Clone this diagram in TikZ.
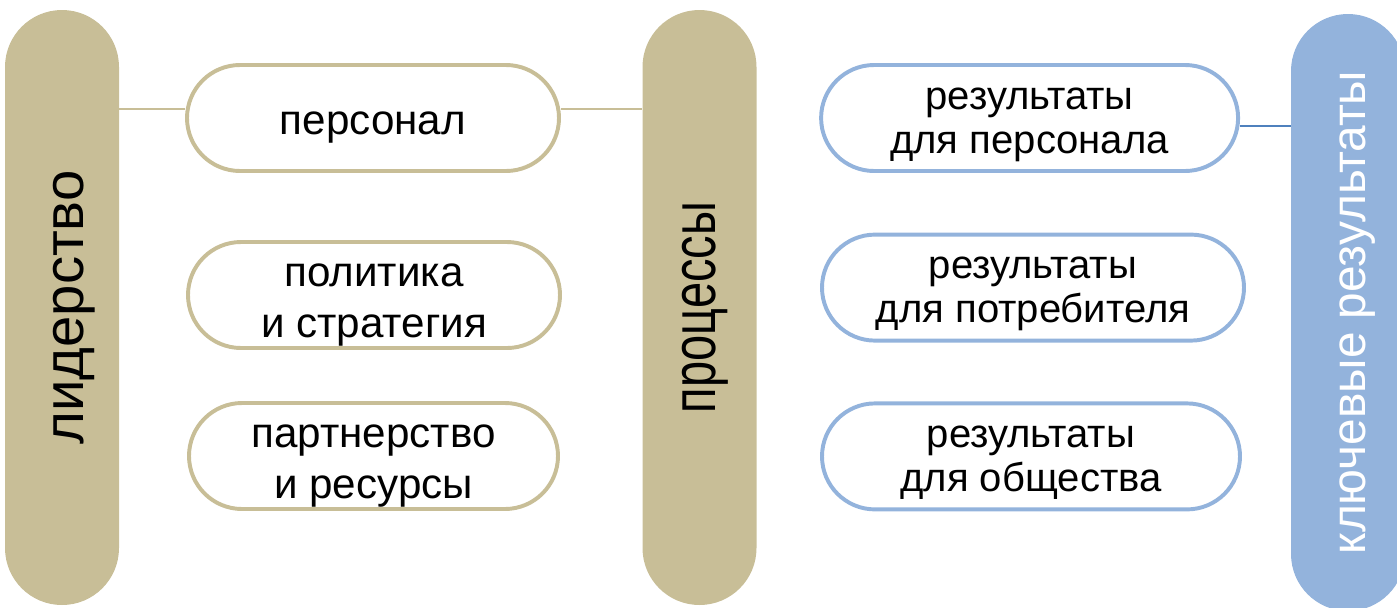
\documentclass[tikz,border=0pt]{standalone}
\usepackage{fontspec}
\setmainfont{Liberation Sans}
\usepackage{xcolor}
\usetikzlibrary{shapes.misc}

\definecolor{tanfill}{HTML}{C8BE97}
\definecolor{bluefill}{HTML}{93B3DC}
\definecolor{blueline}{HTML}{4F81BD}

\tikzset{
  pillar/.style={rounded rectangle, rotate=90, fill=tanfill, inner sep=0pt,
    minimum width=14.875cm, minimum height=2.85cm, text depth=0pt},
  pill/.style={rounded rectangle, line width=2.8pt, fill=white,
    minimum height=2.65cm, inner sep=0pt, align=center},
  % a taller text box pushes the two lines a bit below the middle
  tanbox/.style={pill, draw=tanfill, minimum width=9.3cm,
    font=\fontsize{30}{36.3}\selectfont, text height=2.33cm},
  bluebox/.style={pill, draw=bluefill, minimum width=10.45cm,
    font=\fontsize{28.5}{31.3}\selectfont, text height=1.96cm},
  link/.style={line width=1.4pt, tanfill}
}

\begin{document}
\begin{tikzpicture}
  \useasboundingbox (0,0) rectangle (34.925,-15.175);

  % Enablers column
  \node[pillar, text height=1.05cm, font=\fontsize{40}{44}\selectfont] (lead) at (1.55,-7.6875) {лидерство};
  \node[tanbox, text height=1.05cm] (pers) at (9.325,-2.95) {персонал};
  \node[tanbox] (pol) at (9.35,-7.375) {политика\\и стратегия};
  \node[tanbox, minimum width=9.225cm] (part) at (9.3375,-11.4) {партнерство\\и ресурсы};
  \node[pillar, text height=0.775cm, font=\fontsize{44}{48}\selectfont] (proc) at (17.4875,-7.6875) {\scalebox{0.76}[1]{процессы}};

  % Results column
  \node[bluebox, minimum width=10.425cm] (rpers) at (25.74,-2.95) {результаты\\для персонала};
  \node[bluebox, minimum width=10.55cm] (rcust) at (25.825,-7.19) {результаты\\для потребителя};
  \node[bluebox] (rsoc) at (25.775,-11.41) {результаты\\для общества};
  \node[pillar, fill=bluefill, text=white, minimum width=14.925cm, text height=0.85cm,
    font=\fontsize{34}{38}\selectfont] (key) at (33.7,-7.8125) {ключевые результаты};

  % Links
  \draw[link] ([yshift=0.225cm]pers.west) -- ([yshift=0.225cm]pers.west -| lead.south);
  \draw[link] ([yshift=0.225cm]pers.east) -- ([yshift=0.225cm]pers.east -| proc.north);
  \draw[link, blueline] ([yshift=-0.2cm]rpers.east) -- ([yshift=-0.2cm]rpers.east -| key.north);
\end{tikzpicture}
\end{document}
